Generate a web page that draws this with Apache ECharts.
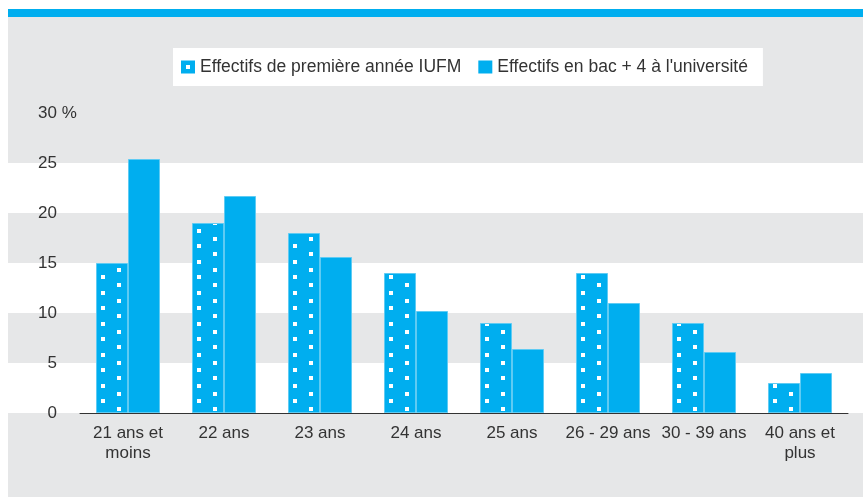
<!DOCTYPE html>
<html>
<head>
<meta charset="utf-8">
<title>Effectifs par âge</title>
<script src="https://cdn.jsdelivr.net/npm/echarts@6/dist/echarts.min.js"></script>
<style>
body { margin: 0; background: #fff; }
#fond { position: absolute; left: 8px; top: 9px; width: 855px; height: 480px; border-top: 8px solid #00aeef; background: #e6e7e8; }
#main { position: absolute; left: 0; top: 0; width: 863px; height: 497px; }
</style>
</head>
<body>
<div id="fond"></div>
<div id="main"></div>
<script type="text/javascript">
var categories = ['21 ans et\nmoins', '22 ans', '23 ans', '24 ans', '25 ans', '26 - 29 ans', '30 - 39 ans', '40 ans et\nplus'];
var iufm = [15, 19, 18, 14, 9, 14, 9, 3];
var universite = [25.4, 21.7, 15.6, 10.2, 6.4, 11, 6.1, 4];
var yTicks = [0, 5, 10, 15, 20, 25, 30];
var nomIufm = 'Effectifs de première année IUFM';
var nomUniv = "Effectifs en bac + 4 à l'université";

var police = "'Liberation Sans', Arial, sans-serif";
var bleu = '#00aeef';

// motif à pois blancs pour la première série
var motif = document.createElement('canvas');
motif.width = 32;
motif.height = 31;
var c = motif.getContext('2d');
c.fillStyle = bleu;
c.fillRect(0, 0, 32, 31);
c.fillStyle = '#fff';
[[21, 4], [5, 12], [21, 20], [5, 27]].forEach(function (p) {
	c.fillRect(p[0], p[1], 4, 4);
});

var myChart = echarts.init(document.getElementById('main'));
var option = {
	animation: false,
	legend: {
		left: 173,
		top: 48,
		padding: [10, 15, 10, 8],
		backgroundColor: '#fff',
		itemWidth: 14,
		itemHeight: 13,
		itemGap: 17,
		textStyle: { fontFamily: police, fontSize: 17.5, color: '#333' },
		data: [
			{ name: nomIufm, icon: 'path://M0,0H14V13H0Z M5,4.5V8.5H9V4.5Z', itemStyle: { color: bleu, borderWidth: 0 } },
			{ name: nomUniv, icon: 'rect', itemStyle: { color: bleu, borderWidth: 0 } }
		]
	},
	grid: [
		{ left: 80, right: 15, top: 113, bottom: 84 },
		{ left: 8, right: 0, top: 113, bottom: 84 }
	],
	xAxis: [
		{
			type: 'category',
			gridIndex: 0,
			data: categories,
			axisLine: { lineStyle: { color: '#333', width: 1 } },
			axisTick: { length: 6, lineStyle: { color: '#333' } },
			axisLabel: { fontFamily: police, fontSize: 17, color: '#333', lineHeight: 20, margin: 10, interval: 0 }
		},
		{ type: 'value', gridIndex: 1, show: false }
	],
	yAxis: [
		{
			type: 'value',
			gridIndex: 0,
			min: yTicks[0],
			max: yTicks[yTicks.length - 1],
			interval: 5,
			axisLine: { show: false },
			axisTick: { show: false },
			splitLine: { show: false },
			axisLabel: {
				margin: 3,
				formatter: function (v) {
					return v === 30 ? '{n|' + v + '}{p| %}' : '{n|' + v + '}{p| }';
				},
				rich: {
					n: { fontFamily: police, fontSize: 17, color: '#333' },
					p: { fontFamily: police, fontSize: 17, color: '#333', width: 20, align: 'left' }
				}
			}
		},
		{
			type: 'value',
			gridIndex: 1,
			min: 0,
			max: 30,
			interval: 5,
			axisLine: { show: false },
			axisTick: { show: false },
			axisLabel: { show: false },
			splitLine: { show: false },
			splitArea: { show: true, areaStyle: { color: ['#ffffff', 'rgba(0,0,0,0)'] } }
		}
	],
	series: [
		{
			name: nomIufm,
			type: 'bar',
			data: iufm,
			barWidth: 32,
			barGap: '0%',
			itemStyle: { color: { image: motif, repeat: 'repeat' }, borderColor: '#5fcbf3', borderWidth: 1 }
		},
		{
			name: nomUniv,
			type: 'bar',
			data: universite,
			barWidth: 32,
			barGap: '0%',
			itemStyle: { color: bleu, borderColor: '#5fcbf3', borderWidth: 1 }
		}
	]
};
myChart.setOption(option);
</script>
</body>
</html>
